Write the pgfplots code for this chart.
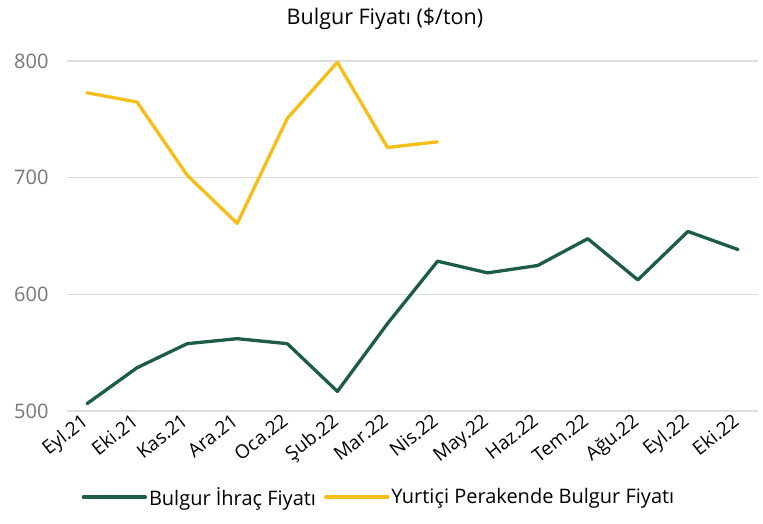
\documentclass[border=0pt]{standalone}
\usepackage{fontspec}
\setmainfont{Open Sans}
\usepackage{pgfplots}
\pgfplotsset{compat=1.18}
\definecolor{cgreen}{HTML}{1E5C4A}
\definecolor{cyellow}{HTML}{F5BF17}
\definecolor{cgrid}{HTML}{DCDCDC}
\definecolor{ctick}{HTML}{767676}
\begin{document}
\begin{tikzpicture}[x=1pt,y=1pt]
\useasboundingbox (0,0) rectangle (763,523);
\node[font=\fontsize{21.5}{24}\selectfont] at (385,504) {Bulgur Fiyatı (\$/ton)};
\begin{axis}[
  at={(67pt,112pt)}, anchor=south west,
  scale only axis, width=691pt, height=350pt,
  xmin=-0.4, xmax=13.4, ymin=500, ymax=800,
  ytick={500,600,700,800},
  xtick={0,...,13},
  xticklabels={Eyl.21,Eki.21,Kas.21,Ara.21,Oca.22,Şub.22,Mar.22,Nis.22,May.22,Haz.22,Tem.22,Ağu.22,Eyl.22,Eki.22},
  axis line style={draw=none},
  major tick length=0pt,
  ymajorgrids, grid style={cgrid, line width=1.5pt},
  yticklabel style={font=\fontsize{20}{22}\selectfont, text=ctick, xshift=-15pt},
  xticklabel style={font=\fontsize{19}{21}\selectfont, rotate=38, anchor=north east, inner sep=1pt, xshift=-5pt, yshift=4pt},
  /pgf/number format/assume math mode=true,
  clip=false,
  legend columns=2,
  legend style={at={(0.4515,-0.246)}, anchor=center, draw=none, fill=none,
    font=\fontsize{20}{22}\selectfont,
    nodes={inner sep=2pt},
    /tikz/every even column/.append style={column sep=6pt}},
  legend image code/.code={\draw[#1] (0pt,0pt) -- (62pt,0pt);},
]
\addplot[cgreen, line width=3.3pt, line join=round, line cap=round] coordinates {
(0,506.3) (1,537.1) (2,557.7) (3,562.0) (4,557.7) (5,516.8) (6,574.9) (7,628.4) (8,618.4) (9,624.7) (10,647.7) (11,612.4) (12,653.9) (13,638.4)};
\addlegendentry{Bulgur İhraç Fiyatı}
\addplot[cyellow, line width=3.3pt, line join=round, line cap=round] coordinates {
(0,772.8) (1,764.8) (2,702.1) (3,660.8) (4,750.8) (5,798.9) (6,725.9) (7,730.7)};
\addlegendentry{Yurtiçi Perakende Bulgur Fiyatı}
\end{axis}
\end{tikzpicture}
\end{document}
